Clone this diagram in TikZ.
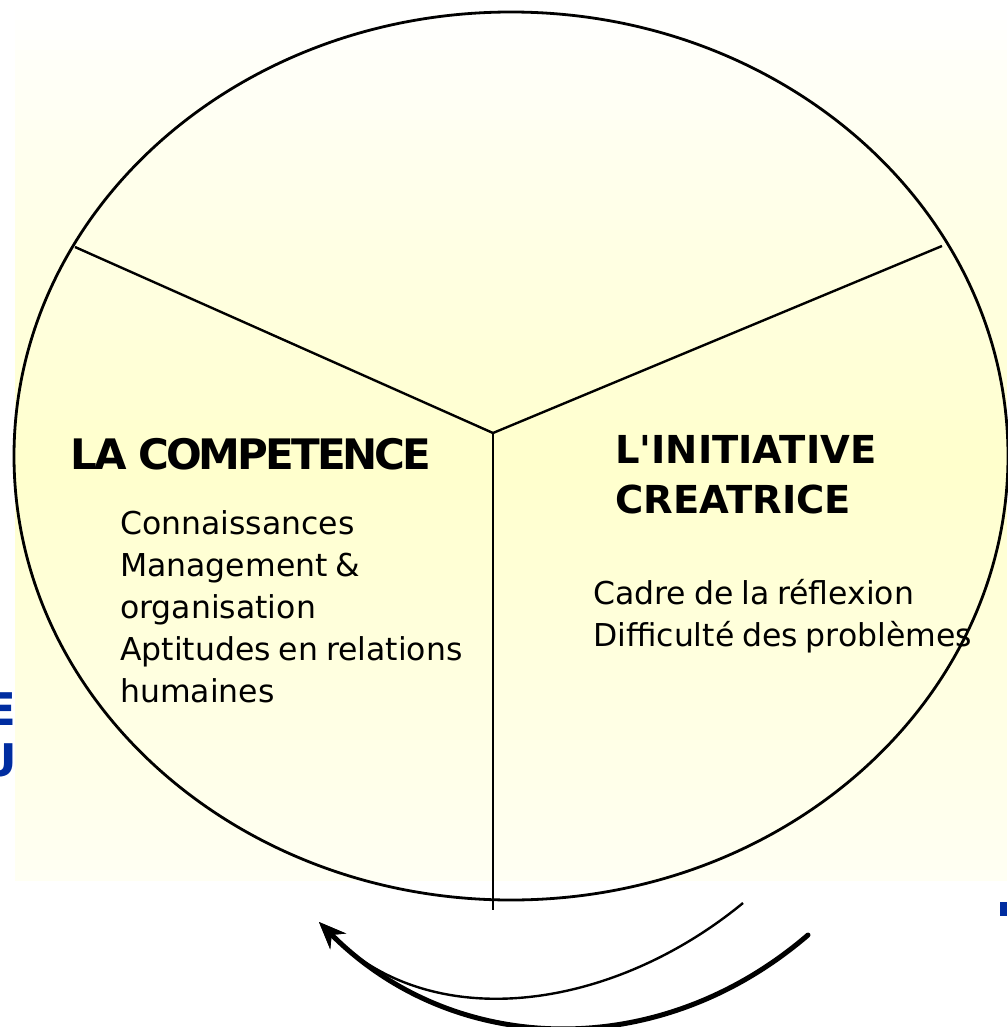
\documentclass[tikz,border=0pt]{standalone}
\usepackage{fontspec}
\setmainfont{DejaVu Sans}
\newfontfamily\tightfamily{DejaVu Sans}[LetterSpace=-7]
\usetikzlibrary{arrows.meta}
\definecolor{paleyellow}{RGB}{255,255,204}
\definecolor{titleblue}{RGB}{0,45,160}
% straight apostrophe, kept out of the TeX quote mapping
\newcommand\straightquote{\XeTeXglyph\XeTeXcharglyph"0027\relax}
% slightly narrower word spaces for the item lists
\newcommand\tightspaces{\spaceskip=0.25em plus 0.05em\relax}
\begin{document}
\begin{tikzpicture}[x=1pt,y=-1pt,
  heading/.style={font=\fontsize{38.5}{50}\selectfont\bfseries, inner sep=0pt, align=left},
  bigheading/.style={font=\tightfamily\fontsize{42}{50}\selectfont\bfseries, inner sep=0pt},
  bodytext/.style={font=\fontsize{31.5}{41.8}\selectfont, inner sep=0pt, align=left,
    execute at begin node=\tightspaces},
  edgetext/.style={font=\fontsize{45}{50}\selectfont\bfseries, text=titleblue, inner sep=0pt},
  outline/.style={line width=2.8pt},
  divider/.style={line width=2.4pt},
  turn/.style={-{Stealth[length=27pt,width=22pt,inset=9pt]}}
]
\useasboundingbox (0,0) rectangle (1007,1027);

% blue lettering running off the left edge
\node[edgetext, anchor=base east] (edgeE) at (16,725) {E};
\node[edgetext, anchor=base east] (edgeU) at (17,776) {U};

% pale yellow backdrop: white at the top, strongest mid-height, fading below
\foreach \i in {0,...,87}{
  \pgfmathsetmacro\tint{\i<46 ? \i/46*100 : 100-(\i-46)/42*78}
  \fill[paleyellow!\tint!white] (15,{10*\i}) rectangle (1007,{10*\i+10.6});
}
\fill[titleblue] (1000,902) rectangle (1007,916);

% the wheel and its three sectors
\draw[outline] (511,456) ellipse [x radius=497, y radius=444];
\coordinate (hub) at (493,433);
\coordinate (leftrim) at (75,247);
\coordinate (rightrim) at (942,246);
\coordinate (foot) at (493,910);
\draw[divider] (leftrim) -- (hub) -- (rightrim);
\draw[divider] (hub) -- (foot);

% sector texts (multi-line nodes sit on the baseline of their last line)
\node[bigheading, anchor=base west] (competence) at (70,469) {LA COMPETENCE};
\node[bodytext, anchor=base west] (skills) at (120,702)
  {Connaissances\\Management \&\\organisation\\Aptitudes en relations\\humaines};
\node[heading, anchor=base west] (initiative) at (615,513)
  {L\straightquote INITIATIVE\\CREATRICE};
\node[bodytext, anchor=base west] (framework) at (593,646)
  {Cadre de la réflexion\\Difficulté des problèmes};

% turning arrows under the wheel
\coordinate (thinstart) at (743,903);
\coordinate (thickstart) at (808,935);
\coordinate (tip) at (319,922);
\draw[line width=2.4pt, turn] (thinstart) .. controls (613,1010) and (432,1037) .. (tip);
\draw[line width=5pt, line cap=round, turn] (thickstart) .. controls (658,1064) and (453,1057) .. (tip);
\end{tikzpicture}
\end{document}
